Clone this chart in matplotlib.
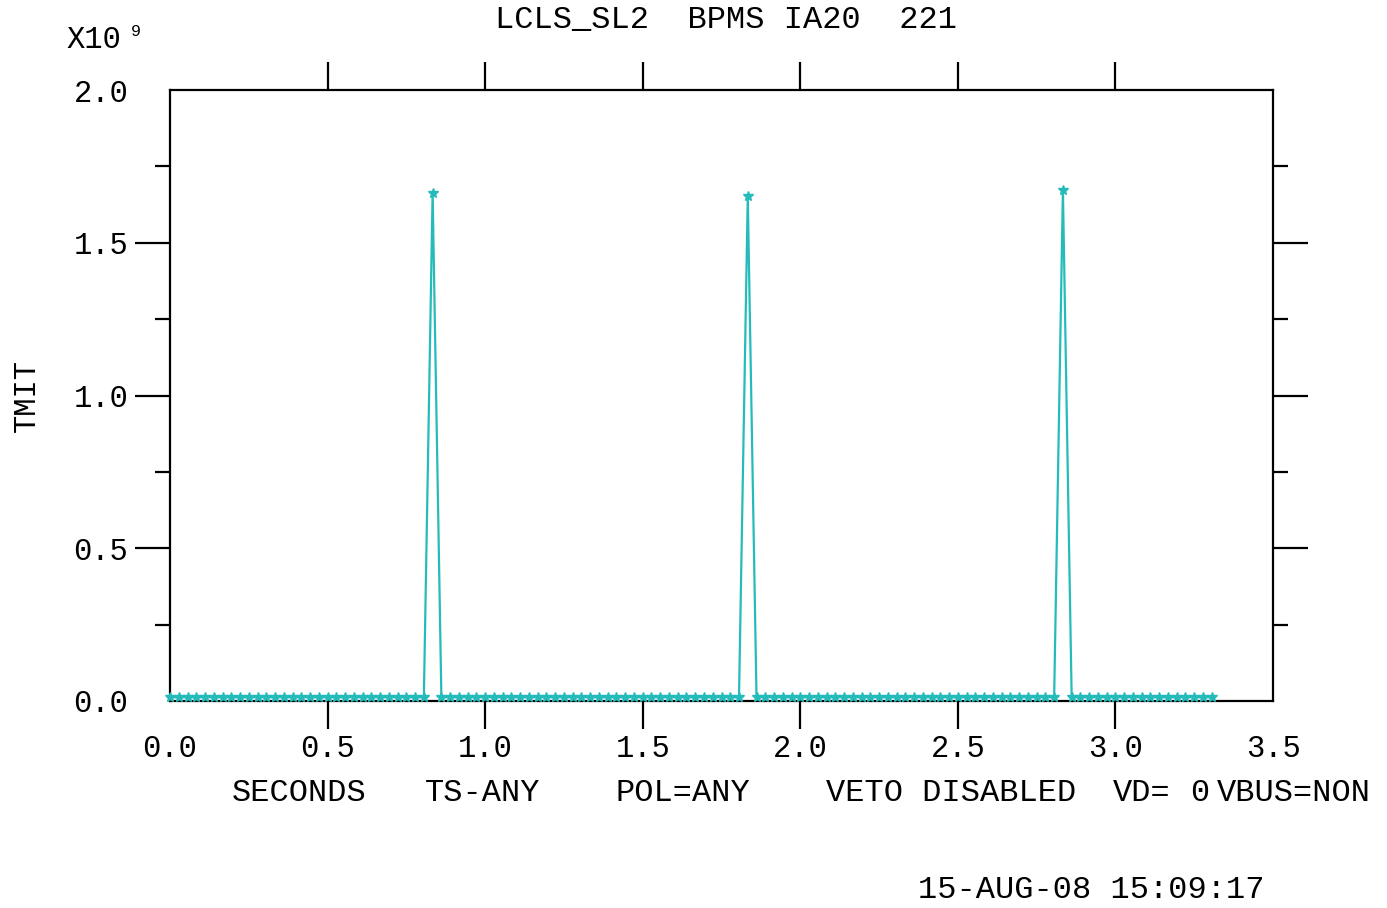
import numpy as np
import matplotlib
matplotlib.use("Agg")
import matplotlib.pyplot as plt
from matplotlib.ticker import MultipleLocator, FixedLocator

# BPM buffered acquisition, 120 samples at 36 Hz
n_samples = 120
sample_rate = 36.0
baseline = 0.012                 # x1e9
peak_index = [30, 66, 102]
peak_tmit = [1.663, 1.653, 1.673]   # x1e9

x_ticks = [0.0, 0.5, 1.0, 1.5, 2.0, 2.5, 3.0, 3.5]
y_ticks = [0.0, 0.5, 1.0, 1.5, 2.0]

title = "LCLS_SL2  BPMS IA20  221"
footer = ["SECONDS", "TS-ANY", "POL=ANY", "VETO DISABLED", "VD=", "0", "VBUS=NON"]
footer_x = [232, 425, 615, 826, 1113, 1190, 1217]
stamp = "15-AUG-08 15:09:17"

t = np.arange(n_samples) / sample_rate
tmit = [baseline] * n_samples
for i, v in zip(peak_index, peak_tmit):
    tmit[i] = v

W, H = 1387, 908
font = "Liberation Mono"
fs = 23
tfs = 22
cyan = "#26BBBB"

fig = plt.figure(figsize=(W / 100, H / 100), dpi=100)
ax = fig.add_axes([170 / W, 1 - 701 / H, (1273 - 170) / W, (701 - 90) / H])

ax.plot(t, tmit, color=cyan, lw=1.6, marker="*", ms=7.5, mec=cyan, mfc=cyan,
        clip_on=False, zorder=5)

ax.set_xlim(0, 3.5)
ax.set_ylim(0, 2.0)
for s in ax.spines.values():
    s.set_linewidth(1.6)

ax.xaxis.set_major_locator(FixedLocator(x_ticks))
ax.yaxis.set_major_locator(FixedLocator(y_ticks))
ax.yaxis.set_minor_locator(MultipleLocator(0.25))
ax.set_xticklabels(["%.1f" % v for v in x_ticks], fontfamily=font, fontsize=tfs)
ax.set_yticklabels(["%.1f" % v for v in y_ticks], fontfamily=font, fontsize=tfs)

ax.tick_params(axis="x", which="major", direction="out", top=True, bottom=True,
               length=20, width=1.6, pad=4)
ax.tick_params(axis="y", which="major", direction="out", left=True, right=True,
               length=25, width=1.6, pad=5)
ax.tick_params(axis="y", which="minor", direction="out", left=True, right=True,
               length=11, width=1.6)

# no tick marks at the corners
for tk in [ax.xaxis.get_major_ticks()[0], ax.xaxis.get_major_ticks()[-1],
           ax.yaxis.get_major_ticks()[0], ax.yaxis.get_major_ticks()[-1]]:
    tk.tick1line.set_visible(False)
    tk.tick2line.set_visible(False)

ax.set_ylabel("TMIT", fontfamily=font, fontsize=tfs, va="center")
ax.yaxis.set_label_coords(-(170 - 27) / (1273 - 170), 0.5)

fig.text(726 / W, 1 - 20 / H, title, ha="center", va="center",
         fontfamily=font, fontsize=fs)
fig.text(66 / W, 1 - 40 / H, "X10", ha="left", va="center",
         fontfamily=font, fontsize=tfs)
fig.text(131 / W, 1 - 31 / H, "9", ha="left", va="center",
         fontfamily=font, fontsize=12)

for s, x in zip(footer, footer_x):
    fig.text(x / W, 1 - 793 / H, s, ha="left", va="center",
             fontfamily=font, fontsize=fs)

fig.text(918 / W, 1 - 890 / H, stamp, ha="left", va="center",
         fontfamily=font, fontsize=fs)

fig.savefig("out.png", dpi=100)
